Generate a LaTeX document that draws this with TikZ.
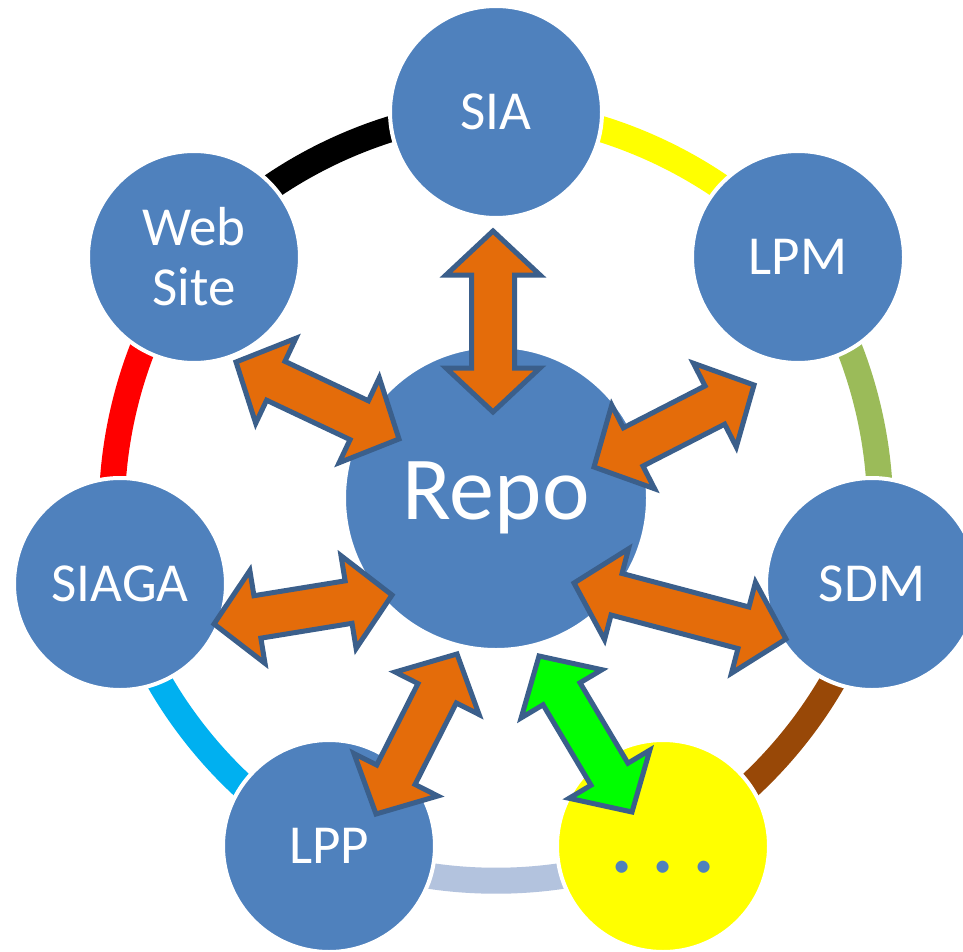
\documentclass[tikz,border=0pt]{standalone}
\usepackage{fontspec}
\setmainfont{Carlito}
\usetikzlibrary{calc,backgrounds}

\definecolor{nodeblue}{HTML}{4F81BD}
\definecolor{arrowfill}{HTML}{E46C0A}
\definecolor{arrowline}{HTML}{3B5F8B}
\definecolor{ringolive}{HTML}{9BBB59}
\definecolor{ringbrown}{HTML}{984807}
\definecolor{ringgray}{HTML}{B3C3DE}
\definecolor{ringcyan}{HTML}{00B0F0}
\definecolor{moregreen}{HTML}{00FF00}
\definecolor{moreyellow}{HTML}{FFFF00}

% block arrow sizes
\def\arrhead{44pt}
\def\arrhalf{47pt}
\def\arrshaft{21.5pt}

% double block arrow between two named points
\newcommand{\dblarrow}[3][arrowfill]{%
  \draw[blockarrow, fill=#1] (#2)
    -- ($(#2)!\arrhead!(#3)!\arrhalf!90:(#3)$)
    -- ($(#2)!\arrhead!(#3)!\arrshaft!90:(#3)$)
    -- ($(#3)!\arrhead!(#2)!\arrshaft!-90:(#2)$)
    -- ($(#3)!\arrhead!(#2)!\arrhalf!-90:(#2)$)
    -- (#3)
    -- ($(#3)!\arrhead!(#2)!\arrhalf!90:(#2)$)
    -- ($(#3)!\arrhead!(#2)!\arrshaft!90:(#2)$)
    -- ($(#2)!\arrhead!(#3)!\arrshaft!-90:(#3)$)
    -- ($(#2)!\arrhead!(#3)!\arrhalf!-90:(#3)$)
    -- cycle;}

\tikzset{
  member/.style={circle, fill=nodeblue, draw=white, line width=4pt,
    minimum size=212pt, inner sep=0pt, text=white, align=center,
    font=\fontsize{55}{60}\selectfont},
  hub/.style={member, minimum size=304pt, font=\fontsize{90}{94}\selectfont},
  ringseg/.style={line width=26pt},
  blockarrow/.style={draw=arrowline, line width=5pt, line join=miter},
  dotrow/.style={text=nodeblue, inner sep=0pt, font=\fontsize{100}{100}\selectfont},
}

\begin{document}
\begin{tikzpicture}[x=1pt, y=-1pt]
\begin{scope}[on background layer]
\fill[white] (0,0) rectangle (963,952);
\end{scope}
\useasboundingbox (0,0) rectangle (963,952);

% nodes round the ring
\node[hub] (repo) at (496,498) {Repo};
\node[member] (sia) at (496,112) {SIA};
\node[member] (web) at (194,257) {Web\\Site};
\node[member] (siaga) at (120,584) {SIAGA};
\node[member] (lpp) at (329,846) {LPP};
\node[member, fill=moreyellow] (more) at (663,846) {};
\node[dotrow] (moretext) at ([yshift=-21pt]more.center) {.\hspace{16pt}.\hspace{16pt}.};
\node[member] (sdm) at (872,584) {SDM};
\node[member] (lpm) at (798,257) {LPM};

% coloured ring
\begin{scope}[on background layer]
\foreach \a/\b/\c in {sia/web/black, web/siaga/red, siaga/lpp/ringcyan,
    lpp/more/ringgray, more/sdm/ringbrown, sdm/lpm/ringolive, lpm/sia/moreyellow}
  \draw[ringseg, \c] (\a.center) to[bend right=25.7, looseness=0.82] (\b.center);
\end{scope}

% arrow tips
\coordinate (sia-out) at (493,231);
\coordinate (sia-in) at (493,412);
\coordinate (web-out) at (236,362);
\coordinate (web-in) at (399,439);
\coordinate (lpm-out) at (754,385);
\coordinate (lpm-in) at (594,467);
\coordinate (siaga-out) at (214,624);
\coordinate (siaga-in) at (392,595);
\coordinate (sdm-out) at (786,639);
\coordinate (sdm-in) at (574,583);
\coordinate (lpp-out) at (376,814);
\coordinate (lpp-in) at (457,654);
\coordinate (more-out) at (632,812);
\coordinate (more-in) at (539,656);

\dblarrow{sia-out}{sia-in}
\dblarrow{web-out}{web-in}
\dblarrow{lpm-out}{lpm-in}
\dblarrow{siaga-out}{siaga-in}
\dblarrow{sdm-out}{sdm-in}
\dblarrow{lpp-out}{lpp-in}
\dblarrow[moregreen]{more-out}{more-in}
\end{tikzpicture}
\end{document}
